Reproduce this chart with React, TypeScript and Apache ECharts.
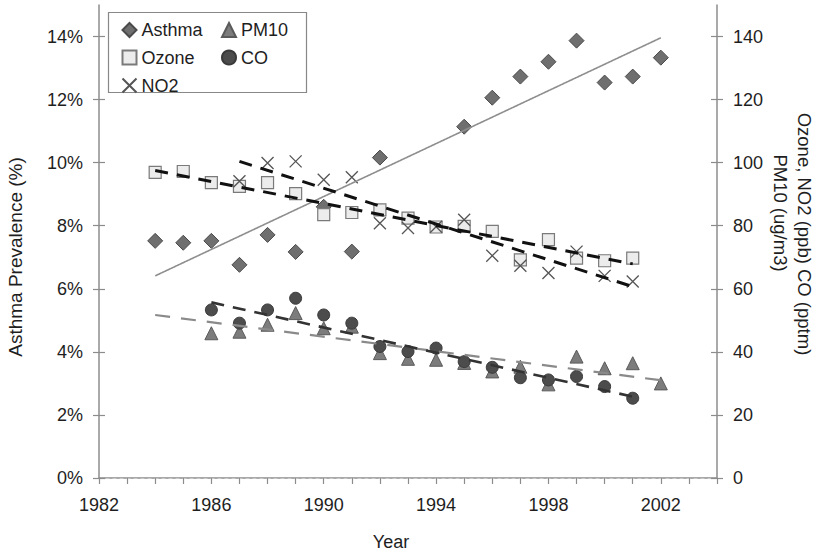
import React, { useEffect, useRef } from "react";
import * as echarts from "echarts";

const FONT = "'Liberation Sans', Arial, Helvetica, sans-serif";

// Years for each series
const asthmaYears = [1984, 1985, 1986, 1987, 1988, 1989, 1990, 1991, 1992, 1995, 1996, 1997, 1998, 1999, 2000, 2001, 2002];
const asthmaValues = [7.52, 7.46, 7.52, 6.76, 7.71, 7.17, 8.6, 7.18, 10.16, 11.14, 12.06, 12.73, 13.2, 13.87, 12.54, 12.73, 13.33];

const ozoneYears = [1984, 1985, 1986, 1987, 1988, 1989, 1990, 1991, 1992, 1993, 1994, 1995, 1996, 1997, 1998, 1999, 2000, 2001];
const ozoneValues = [96.9, 97.2, 93.7, 92.5, 93.7, 90.2, 83.5, 84.2, 85.0, 82.4, 79.6, 79.8, 78.2, 69.2, 75.6, 69.7, 68.9, 69.7];

const no2Years = [1987, 1988, 1989, 1990, 1991, 1992, 1993, 1994, 1995, 1996, 1997, 1998, 1999, 2000, 2001];
const no2Values = [94.1, 99.9, 100.4, 94.6, 95.4, 80.8, 79.3, 79.7, 81.9, 70.5, 67.3, 65.0, 71.8, 64.1, 62.3];

const pm10Years = [1986, 1987, 1988, 1989, 1990, 1991, 1992, 1993, 1994, 1995, 1996, 1997, 1998, 1999, 2000, 2001, 2002];
const pm10Values = [45.9, 46.4, 48.6, 52.3, 47.5, 48.0, 39.6, 37.8, 37.5, 36.5, 33.8, 35.3, 29.7, 38.5, 34.8, 36.4, 30.0];

const coYears = [1986, 1987, 1988, 1989, 1990, 1991, 1992, 1993, 1994, 1995, 1996, 1997, 1998, 1999, 2000, 2001];
const coValues = [53.3, 49.1, 53.3, 57.0, 51.7, 49.1, 41.7, 40.1, 41.2, 36.9, 35.1, 31.8, 31.1, 32.2, 29.0, 25.3];

// Trend line end points [year, value]
const asthmaTrend = [[1984, 6.41], [2002, 13.96]];
const ozoneTrend = [[1984, 97.5], [2001, 67.9]];
const no2Trend = [[1987, 100.4], [2001, 60.7]];
const pm10Trend = [[1984, 51.7], [2002, 31.0]];
const coTrend = [[1986, 55.7], [2001, 25.8]];

// Axis ticks / labels
const xTickYears = [1982, 1983, 1984, 1985, 1986, 1987, 1988, 1989, 1990, 1991, 1992, 1993, 1994, 1995, 1996, 1997, 1998, 1999, 2000, 2001, 2002, 2003, 2004];
const xLabelYears = [1982, 1986, 1990, 1994, 1998, 2002];
const leftTicks = [0, 2, 4, 6, 8, 10, 12, 14];
const rightTicks = [0, 20, 40, 60, 80, 100, 120, 140];

const pair = (xs: number[], ys: number[]) => xs.map((x, i) => [x, ys[i]]);

const CROSS = "path://M0,0L10,10M10,0L0,10";

export default function App() {
  const ref = useRef<HTMLDivElement>(null);
  useEffect(() => {
    if (!ref.current) return;
    const chart = echarts.init(ref.current, undefined, { renderer: "svg" });
    const axisGray = "#8c8c8c";
    const labelStyle = { fontSize: 18, color: "#1e1e1e", fontFamily: FONT };
    const trendLine = (name: string, data: number[][], yAxisIndex: number, color: string, width: number, dash: number[]) => ({
      name,
      type: "line",
      data,
      xAxisIndex: 0,
      yAxisIndex,
      symbol: "none",
      showSymbol: false,
      silent: true,
      lineStyle: { color, width, type: dash },
      z: 3,
    });
    chart.setOption({
      animation: false,
      backgroundColor: "#fff",
      grid: { left: 99, right: 99, top: 5, bottom: 75, containLabel: false },
      xAxis: [
        {
          type: "value",
          min: 1982,
          max: 2004,
          interval: 1,
          position: "bottom",
          axisLine: { show: true, lineStyle: { color: axisGray, width: 1.5 } },
          axisTick: { show: true, length: 6, customValues: xTickYears, lineStyle: { color: axisGray, width: 1.2 } },
          axisLabel: { ...labelStyle, margin: 18, customValues: xLabelYears, formatter: (v: number) => String(v) },
          splitLine: { show: false },
        },
        {
          type: "value",
          min: 1982,
          max: 2004,
          position: "top",
          axisLine: { show: true, lineStyle: { color: "#c8c8c8", width: 1.2, type: [3, 4] } },
          axisTick: { show: false },
          axisLabel: { show: false },
          splitLine: { show: false },
        },
      ],
      yAxis: [
        {
          type: "value",
          min: 0,
          max: 15,
          position: "left",
          axisLine: { show: true, lineStyle: { color: axisGray, width: 1.5 } },
          axisTick: { show: true, length: 6, customValues: leftTicks, lineStyle: { color: axisGray, width: 1.2 } },
          axisLabel: { ...labelStyle, margin: 16, customValues: leftTicks, formatter: (v: number) => v + "%" },
          splitLine: { show: false },
        },
        {
          type: "value",
          min: 0,
          max: 15,
          position: "left",
          axisLine: { show: false },
          axisTick: { show: true, inside: true, length: 6, customValues: leftTicks, lineStyle: { color: axisGray, width: 1.2 } },
          axisLabel: { show: false },
          splitLine: { show: false },
        },
        {
          type: "value",
          min: 0,
          max: 150,
          position: "right",
          axisLine: { show: true, lineStyle: { color: axisGray, width: 1.5 } },
          axisTick: { show: true, length: 6, customValues: rightTicks, lineStyle: { color: axisGray, width: 1.2 } },
          axisLabel: { ...labelStyle, margin: 16, customValues: rightTicks, formatter: (v: number) => String(v) },
          splitLine: { show: false },
        },
        {
          type: "value",
          min: 0,
          max: 150,
          position: "right",
          axisLine: { show: false },
          axisTick: { show: true, inside: true, length: 6, customValues: rightTicks, lineStyle: { color: axisGray, width: 1.2 } },
          axisLabel: { show: false },
          splitLine: { show: false },
        },
      ],
      legend: [
        {
          orient: "vertical",
          left: 115,
          top: 16,
          itemWidth: 14,
          itemHeight: 14,
          itemGap: 9.5,
          selectedMode: false,
          textStyle: { fontSize: 18, color: "#1e1e1e", fontFamily: FONT, lineHeight: 18 },
          data: ["Asthma", "Ozone", "NO2"],
          z: 5,
        },
        {
          orient: "vertical",
          left: 216,
          top: 16,
          itemWidth: 14,
          itemHeight: 14,
          itemGap: 9.5,
          selectedMode: false,
          textStyle: { fontSize: 18, color: "#1e1e1e", fontFamily: FONT, lineHeight: 18 },
          data: ["PM10", "CO"],
          z: 5,
        },
      ],
      graphic: [
        {
          type: "rect",
          shape: { x: 108.5, y: 12.5, width: 198, height: 80 },
          style: { fill: "#fff", stroke: "#888", lineWidth: 1.2 },
          z: 4,
          silent: true,
        },
        {
          type: "text",
          x: 15,
          y: 257,
          rotation: Math.PI / 2,
          style: { text: "Asthma Prevalence (%)", fontSize: 19, fill: "#1e1e1e", fontFamily: FONT, align: "center", verticalAlign: "middle" },
        },
        {
          type: "text",
          x: 804,
          y: 234,
          rotation: -Math.PI / 2,
          style: { text: "Ozone, NO2 (ppb) CO (pptm)", fontSize: 18.5, fill: "#1e1e1e", fontFamily: FONT, align: "center", verticalAlign: "middle" },
        },
        {
          type: "text",
          x: 780,
          y: 213,
          rotation: -Math.PI / 2,
          style: { text: "PM10 (ug/m3)", fontSize: 18.5, fill: "#1e1e1e", fontFamily: FONT, align: "center", verticalAlign: "middle" },
        },
        {
          type: "text",
          x: 391,
          y: 542,
          style: { text: "Year", fontSize: 18, fill: "#1e1e1e", fontFamily: FONT, align: "center", verticalAlign: "middle" },
        },
      ],
      series: [
        {
          name: "Asthma",
          type: "scatter",
          yAxisIndex: 0,
          data: pair(asthmaYears, asthmaValues),
          symbol: "diamond",
          symbolSize: 15,
          itemStyle: { color: "#6f6f6f", borderColor: "#4a4a4a", borderWidth: 1, opacity: 1 },
        },
        {
          name: "PM10",
          type: "scatter",
          yAxisIndex: 2,
          data: pair(pm10Years, pm10Values),
          symbol: "triangle",
          symbolSize: 13,
          itemStyle: { color: "#7c7c7c", borderColor: "#5a5a5a", borderWidth: 1, opacity: 1 },
        },
        {
          name: "Ozone",
          type: "scatter",
          yAxisIndex: 2,
          data: pair(ozoneYears, ozoneValues),
          symbol: "rect",
          symbolSize: 12,
          itemStyle: { color: "#ececec", borderColor: "#7a7a7a", borderWidth: 1.2, opacity: 1 },
        },
        {
          name: "CO",
          type: "scatter",
          yAxisIndex: 2,
          data: pair(coYears, coValues),
          symbol: "circle",
          symbolSize: 12,
          itemStyle: { color: "#4c4c4c", borderColor: "#3a3a3a", borderWidth: 1, opacity: 1 },
        },
        {
          name: "NO2",
          type: "scatter",
          yAxisIndex: 2,
          data: pair(no2Years, no2Values),
          symbol: CROSS,
          symbolSize: 12,
          itemStyle: { color: "none", borderColor: "#555", borderWidth: 1.3, opacity: 1 },
        },
        trendLine("asthmaTrend", asthmaTrend, 0, "#8e8e8e", 1.6, [1, 0]),
        trendLine("pm10Trend", pm10Trend, 2, "#8a8a8a", 2.2, [15, 11]),
        trendLine("coTrend", coTrend, 2, "#333", 2.6, [13, 9]),
        trendLine("ozoneTrend", ozoneTrend, 2, "#111", 3, [13, 9]),
        trendLine("no2Trend", no2Trend, 2, "#111", 3, [13, 9]),
      ],
    });
    return () => chart.dispose();
  }, []);
  return <div ref={ref} style={{ position: "fixed", left: 0, top: 0, width: 816, height: 553, background: "#fff" }} />;
}
